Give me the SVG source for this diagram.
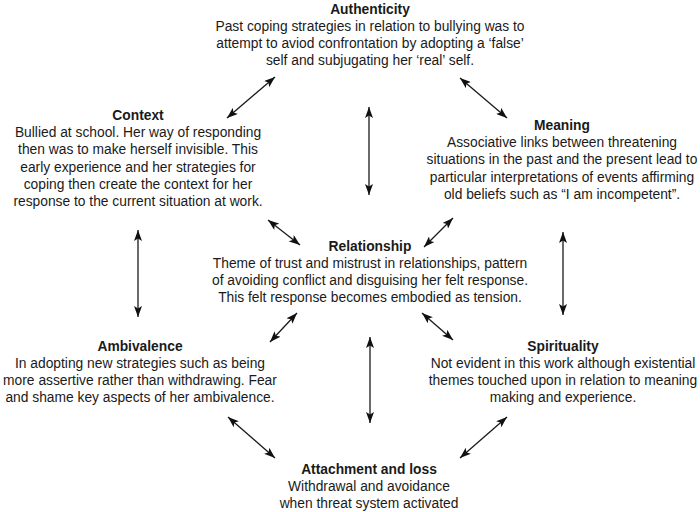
<svg xmlns="http://www.w3.org/2000/svg" width="700" height="512" viewBox="0 0 700 512">
<defs>
<marker id="ah" viewBox="0 0 11 8" refX="11" refY="4" markerWidth="11" markerHeight="8" markerUnits="userSpaceOnUse" orient="auto-start-reverse">
<path d="M0,0 L11,4 L0,8 L2.5,4 Z" fill="#111"/>
</marker>
<style>
text{font-family:"Liberation Sans",Arial,sans-serif;font-size:13.8px;fill:#1a1a1a;text-anchor:middle}
.t{font-weight:bold}
.c line{stroke:#1a1a1a;stroke-width:1.3;marker-start:url(#ah);marker-end:url(#ah)}
</style>
</defs>
<rect width="700" height="512" fill="#fff"/>
<g id="authenticity">
<text class="t" x="370" y="14">Authenticity</text>
<text x="370" y="31">Past coping strategies in relation to bullying was to</text>
<text x="370" y="48">attempt to aviod confrontation by adopting a ‘false’</text>
<text x="370" y="65">self and subjugating her ‘real’ self.</text>
</g>
<g id="context">
<text class="t" x="138" y="120">Context</text>
<text x="138" y="137">Bullied at school. Her way of responding</text>
<text x="138" y="154">then was to make herself invisible. This</text>
<text x="138" y="171.5">early experience and her strategies for</text>
<text x="138" y="189">coping then create the context for her</text>
<text x="138" y="206">response to the current situation at work.</text>
</g>
<g id="meaning">
<text class="t" x="562" y="130">Meaning</text>
<text x="562" y="147">Associative links between threatening</text>
<text x="562" y="164">situations in the past and the present lead to</text>
<text x="562" y="181.5">particular interpretations of events affirming</text>
<text x="562" y="199">old beliefs such as “I am incompetent”.</text>
</g>
<g id="relationship">
<text class="t" x="370" y="251">Relationship</text>
<text x="370" y="268">Theme of trust and mistrust in relationships, pattern</text>
<text x="370" y="285">of avoiding conflict and disguising her felt response.</text>
<text x="370" y="302">This felt response becomes embodied as tension.</text>
</g>
<g id="ambivalence">
<text class="t" x="140" y="351">Ambivalence</text>
<text x="140" y="368">In adopting new strategies such as being</text>
<text x="140" y="385">more assertive rather than withdrawing. Fear</text>
<text x="140" y="402">and shame key aspects of her ambivalence.</text>
</g>
<g id="spirituality">
<text class="t" x="563" y="351">Spirituality</text>
<text x="563" y="368">Not evident in this work although existential</text>
<text x="563" y="385">themes touched upon in relation to meaning</text>
<text x="563" y="402">making and experience.</text>
</g>
<g id="attachment">
<text class="t" x="369" y="474">Attachment and loss</text>
<text x="369" y="491">Withdrawal and avoidance</text>
<text x="369" y="508">when threat system activated</text>
</g>
<g id="connectors" class="c">
<line x1="227" y1="118" x2="275" y2="77"/>
<line x1="460" y1="78" x2="507" y2="118"/>
<line x1="369" y1="107" x2="369" y2="195"/>
<line x1="268" y1="220" x2="300" y2="245"/>
<line x1="453" y1="218" x2="424" y2="247"/>
<line x1="563" y1="232" x2="563" y2="315"/>
<line x1="138" y1="230" x2="138" y2="317"/>
<line x1="297" y1="313" x2="270" y2="342"/>
<line x1="422" y1="313" x2="453" y2="340"/>
<line x1="370" y1="337" x2="370" y2="423"/>
<line x1="228" y1="417" x2="275" y2="458"/>
<line x1="507" y1="417" x2="460" y2="458"/>
</g>
</svg>
